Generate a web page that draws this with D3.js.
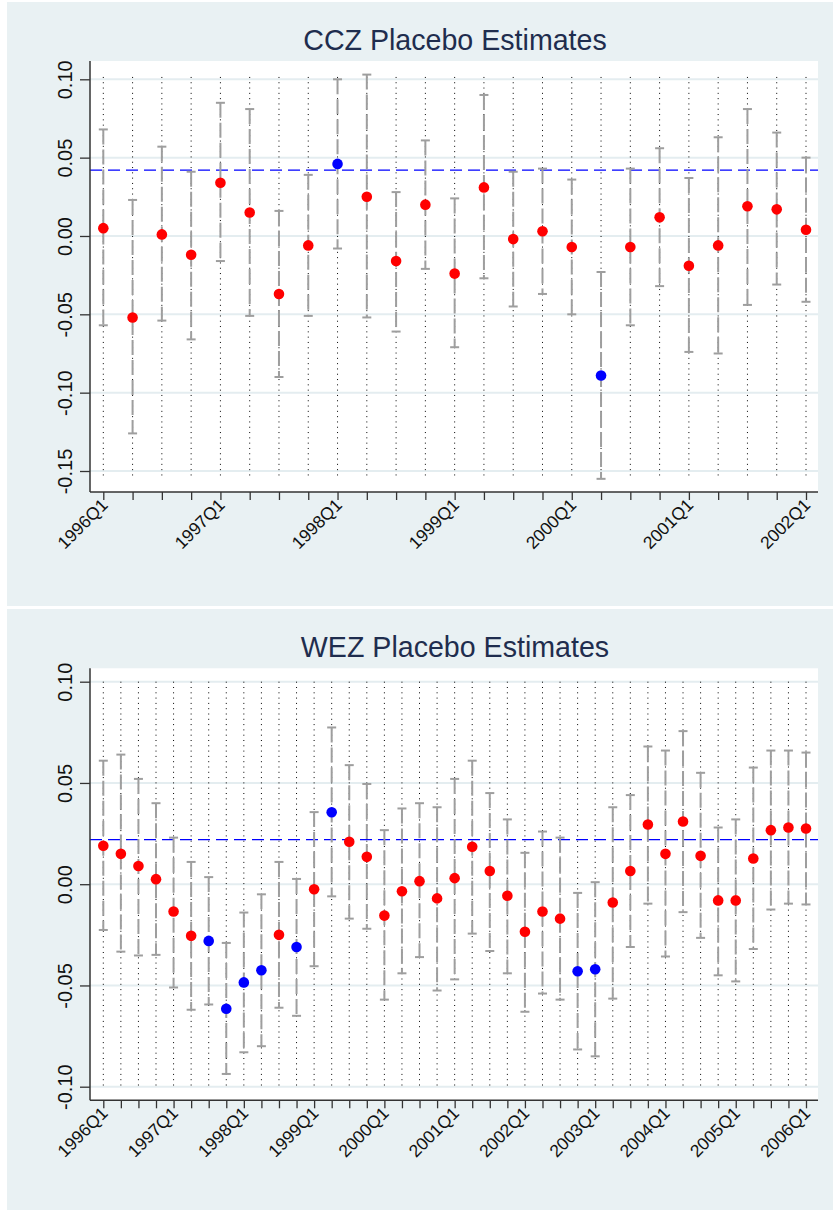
<!DOCTYPE html>
<html>
<head>
<meta charset="utf-8">
<script src="https://cdn.jsdelivr.net/npm/d3@7"></script>
<style>
body { margin: 0; background: #fff; }
svg { display: block; font-family: "Liberation Sans", Arial, sans-serif; }
</style>
</head>
<body>
<svg id="chart" width="833" height="1210"></svg>
<script>
// quarters, one category per point
function quarterRange(startYear, n) {
	var out = [];
	for (var i = 0; i < n; i++) {
		out.push((startYear + Math.floor(i / 4)) + "Q" + (i % 4 + 1));
	}
	return out;
}

// ---- CCZ ----
var cczQuarters = quarterRange(1996, 25);
var cczEst = [0.005, -0.052, 0.001, -0.012, 0.034, 0.015, -0.037, -0.006, 0.046, 0.025,
	-0.016, 0.020, -0.024, 0.031, -0.002, 0.003, -0.007, -0.089, -0.007, 0.012,
	-0.019, -0.006, 0.019, 0.017, 0.004];
var cczHigh = [0.068, 0.023, 0.057, 0.041, 0.085, 0.081, 0.016, 0.039, 0.100, 0.103,
	0.028, 0.061, 0.024, 0.090, 0.041, 0.043, 0.036, -0.023, 0.043, 0.056,
	0.037, 0.063, 0.081, 0.066, 0.050];
var cczLow = [-0.057, -0.126, -0.054, -0.066, -0.016, -0.051, -0.090, -0.051, -0.008, -0.052,
	-0.061, -0.021, -0.071, -0.027, -0.045, -0.037, -0.050, -0.155, -0.057, -0.032,
	-0.074, -0.075, -0.044, -0.031, -0.042];
var cczBlue = [0, 0, 0, 0, 0, 0, 0, 0, 1, 0, 0, 0, 0, 0, 0, 0, 0, 1, 0, 0, 0, 0, 0, 0, 0];
var cczYTicks = [0.10, 0.05, 0.00, -0.05, -0.10, -0.15];
var cczXLabels = ["1996Q1", "1997Q1", "1998Q1", "1999Q1", "2000Q1", "2001Q1", "2002Q1"];
var cczRef = 0.042;

// ---- WEZ ----
var wezQuarters = quarterRange(1996, 41);
var wezEst = [0.019, 0.015, 0.009, 0.0025, -0.0135, -0.0255, -0.028, -0.0615, -0.0485, -0.0425,
	-0.025, -0.031, -0.0025, 0.0355, 0.021, 0.0135, -0.0155, -0.0035, 0.0015, -0.007,
	0.003, 0.0185, 0.0065, -0.0057, -0.0235, -0.0135, -0.017, -0.043, -0.042, -0.009,
	0.0065, 0.0295, 0.015, 0.031, 0.014, -0.008, -0.008, 0.0127, 0.0267, 0.028, 0.0275];
var wezHigh = [0.061, 0.064, 0.052, 0.040, 0.023, 0.011, 0.0035, -0.029, -0.014, -0.005,
	0.011, 0.0026, 0.0356, 0.0774, 0.0588, 0.0495, 0.0267, 0.0374, 0.040, 0.038,
	0.052, 0.061, 0.045, 0.032, 0.0155, 0.026, 0.023, -0.0043, 0.001, 0.038,
	0.044, 0.068, 0.066, 0.0756, 0.055, 0.028, 0.032, 0.0576, 0.066, 0.066, 0.065];
var wezLow = [-0.0226, -0.0333, -0.0352, -0.0349, -0.051, -0.062, -0.0594, -0.0937, -0.083, -0.080,
	-0.061, -0.065, -0.0405, -0.006, -0.017, -0.022, -0.057, -0.044, -0.036, -0.0525,
	-0.047, -0.0244, -0.033, -0.044, -0.063, -0.054, -0.057, -0.0816, -0.085, -0.0565,
	-0.031, -0.0096, -0.0357, -0.0138, -0.0265, -0.045, -0.048, -0.032, -0.0125, -0.0096, -0.010];
var wezBlue = [0, 0, 0, 0, 0, 0, 1, 1, 1, 1, 0, 1, 0, 1, 0, 0, 0, 0, 0, 0,
	0, 0, 0, 0, 0, 0, 0, 1, 1, 0, 0, 0, 0, 0, 0, 0, 0, 0, 0, 0, 0];
var wezYTicks = [0.10, 0.05, 0.00, -0.05, -0.10];
var wezXLabels = ["1996Q1", "1997Q1", "1998Q1", "1999Q1", "2000Q1", "2001Q1",
	"2002Q1", "2003Q1", "2004Q1", "2005Q1", "2006Q1"];
var wezRef = 0.022;

var svg = d3.select("#chart");
var bgColor = "#e9f1f3";
var gridColor = "#e4edf0";
var ciColor = "#9e9e9e";
var axisColor = "#333";
// plain hyphen for negatives, like the original
var yFormat = d3.formatLocale({
	decimal: ".", thousands: ",", grouping: [3], currency: ["", ""], minus: "-"
}).format(".2f");

function translate(x, y) {
	return "translate(" + x + "," + y + ")";
}

function drawPanel(p) {
	var g = svg.append("g");
	g.append("rect")
		.attr("x", 7).attr("y", p.top)
		.attr("width", 826).attr("height", p.bottom - p.top)
		.attr("fill", bgColor);
	g.append("rect")
		.attr("x", 90).attr("y", p.plotTop)
		.attr("width", 728).attr("height", p.plotBottom - p.plotTop)
		.attr("fill", "#fff");

	g.append("text")
		.attr("x", 455).attr("y", p.titleY)
		.attr("text-anchor", "middle")
		.attr("font-size", 28.6)
		.attr("fill", "#1f2d4e")
		.text(p.title);

	var x = d3.scalePoint()
		.domain(p.quarters)
		.range([103.3, 806]);
	var y = d3.scaleLinear()
		.domain([p.yTicks[p.yTicks.length - 1], p.yTicks[0]])
		.range([p.yRange[1], p.yRange[0]]);

	// horizontal grid
	g.append("g").selectAll("line")
		.data(p.yTicks).join("line")
		.attr("x1", 90).attr("x2", 818)
		.attr("y1", y).attr("y2", y)
		.attr("stroke", gridColor).attr("stroke-width", 2);

	// dotted quarter lines
	g.append("g").selectAll("line")
		.data(p.quarters).join("line")
		.attr("x1", x).attr("x2", x)
		.attr("y1", y(p.dotSpan[0])).attr("y2", y(p.dotSpan[1]))
		.attr("stroke", "#000").attr("stroke-width", 1)
		.attr("stroke-dasharray", "1,4.3");

	// reference line
	g.append("line")
		.attr("x1", 90).attr("x2", 818)
		.attr("y1", y(p.ref)).attr("y2", y(p.ref))
		.attr("stroke", "#0000ff").attr("stroke-width", 1.3)
		.attr("stroke-dasharray", "12,6");

	var rows = p.quarters.map(function(q, i) {
		return { q: q, est: p.est[i], lo: p.low[i], hi: p.high[i], blue: p.blue[i] };
	});

	// confidence intervals
	var ci = g.append("g").attr("stroke", ciColor).attr("stroke-width", 2);
	ci.selectAll("line.bar")
		.data(rows).join("line")
		.attr("class", "bar")
		.attr("x1", function(d) { return x(d.q); })
		.attr("x2", function(d) { return x(d.q); })
		.attr("y1", function(d) { return y(d.hi); })
		.attr("y2", function(d) { return y(d.lo); })
		.attr("stroke-dasharray", "15,5");
	["hi", "lo"].forEach(function(k) {
		ci.selectAll("line.cap-" + k)
			.data(rows).join("line")
			.attr("class", "cap-" + k)
			.attr("x1", function(d) { return x(d.q) - 4.5; })
			.attr("x2", function(d) { return x(d.q) + 4.5; })
			.attr("y1", function(d) { return y(d[k]); })
			.attr("y2", function(d) { return y(d[k]); });
	});

	g.append("g").selectAll("circle")
		.data(rows).join("circle")
		.attr("cx", function(d) { return x(d.q); })
		.attr("cy", function(d) { return y(d.est); })
		.attr("r", 5.3)
		.attr("fill", function(d) { return d.blue ? "#0000ff" : "#ff0000"; });

	// y axis
	var yAxis = g.append("g")
		.attr("transform", translate(90, 0))
		.call(d3.axisLeft(y).tickValues(p.yTicks).tickSize(10).tickFormat(yFormat));
	yAxis.select(".domain").remove();
	yAxis.append("line")
		.attr("y1", p.plotTop).attr("y2", p.plotBottom)
		.attr("stroke", axisColor).attr("stroke-width", 1.5);
	yAxis.selectAll(".tick line").attr("stroke", axisColor).attr("stroke-width", 1.3);
	yAxis.selectAll(".tick text")
		.attr("x", null).attr("dy", null)
		.attr("transform", "translate(-18,0) rotate(-90)")
		.attr("text-anchor", "middle")
		.attr("font-size", 20)
		.attr("font-family", "Liberation Sans, Arial, sans-serif")
		.attr("fill", "#111");

	// x axis
	var xAxis = g.append("g")
		.attr("transform", translate(0, p.plotBottom))
		.call(d3.axisBottom(x).tickSize(8).tickFormat(function(q) {
			return p.xLabels.indexOf(q) >= 0 ? q : "";
		}));
	xAxis.select(".domain").remove();
	xAxis.append("line")
		.attr("x1", 90).attr("x2", 818)
		.attr("stroke", axisColor).attr("stroke-width", 1.5);
	xAxis.selectAll(".tick line").attr("stroke", axisColor).attr("stroke-width", 1.3);
	xAxis.selectAll(".tick text")
		.attr("y", null).attr("dy", null)
		.attr("transform", "translate(5,14) rotate(-45)")
		.attr("text-anchor", "end")
		.attr("font-size", 17.5)
		.attr("font-family", "Liberation Sans, Arial, sans-serif")
		.attr("fill", "#111");
}

drawPanel({
	title: "CCZ Placebo Estimates",
	top: 2, bottom: 606, plotTop: 61, plotBottom: 492, titleY: 50,
	yRange: [79.3, 471], dotSpan: [0.1015, -0.155],
	quarters: cczQuarters, est: cczEst, low: cczLow, high: cczHigh, blue: cczBlue,
	yTicks: cczYTicks, xLabels: cczXLabels, ref: cczRef
});

drawPanel({
	title: "WEZ Placebo Estimates",
	top: 609, bottom: 1210, plotTop: 668.3, plotBottom: 1100.3, titleY: 657,
	yRange: [681.7, 1086.7], dotSpan: [0.10, -0.10],
	quarters: wezQuarters, est: wezEst, low: wezLow, high: wezHigh, blue: wezBlue,
	yTicks: wezYTicks, xLabels: wezXLabels, ref: wezRef
});
</script>
</body>
</html>
